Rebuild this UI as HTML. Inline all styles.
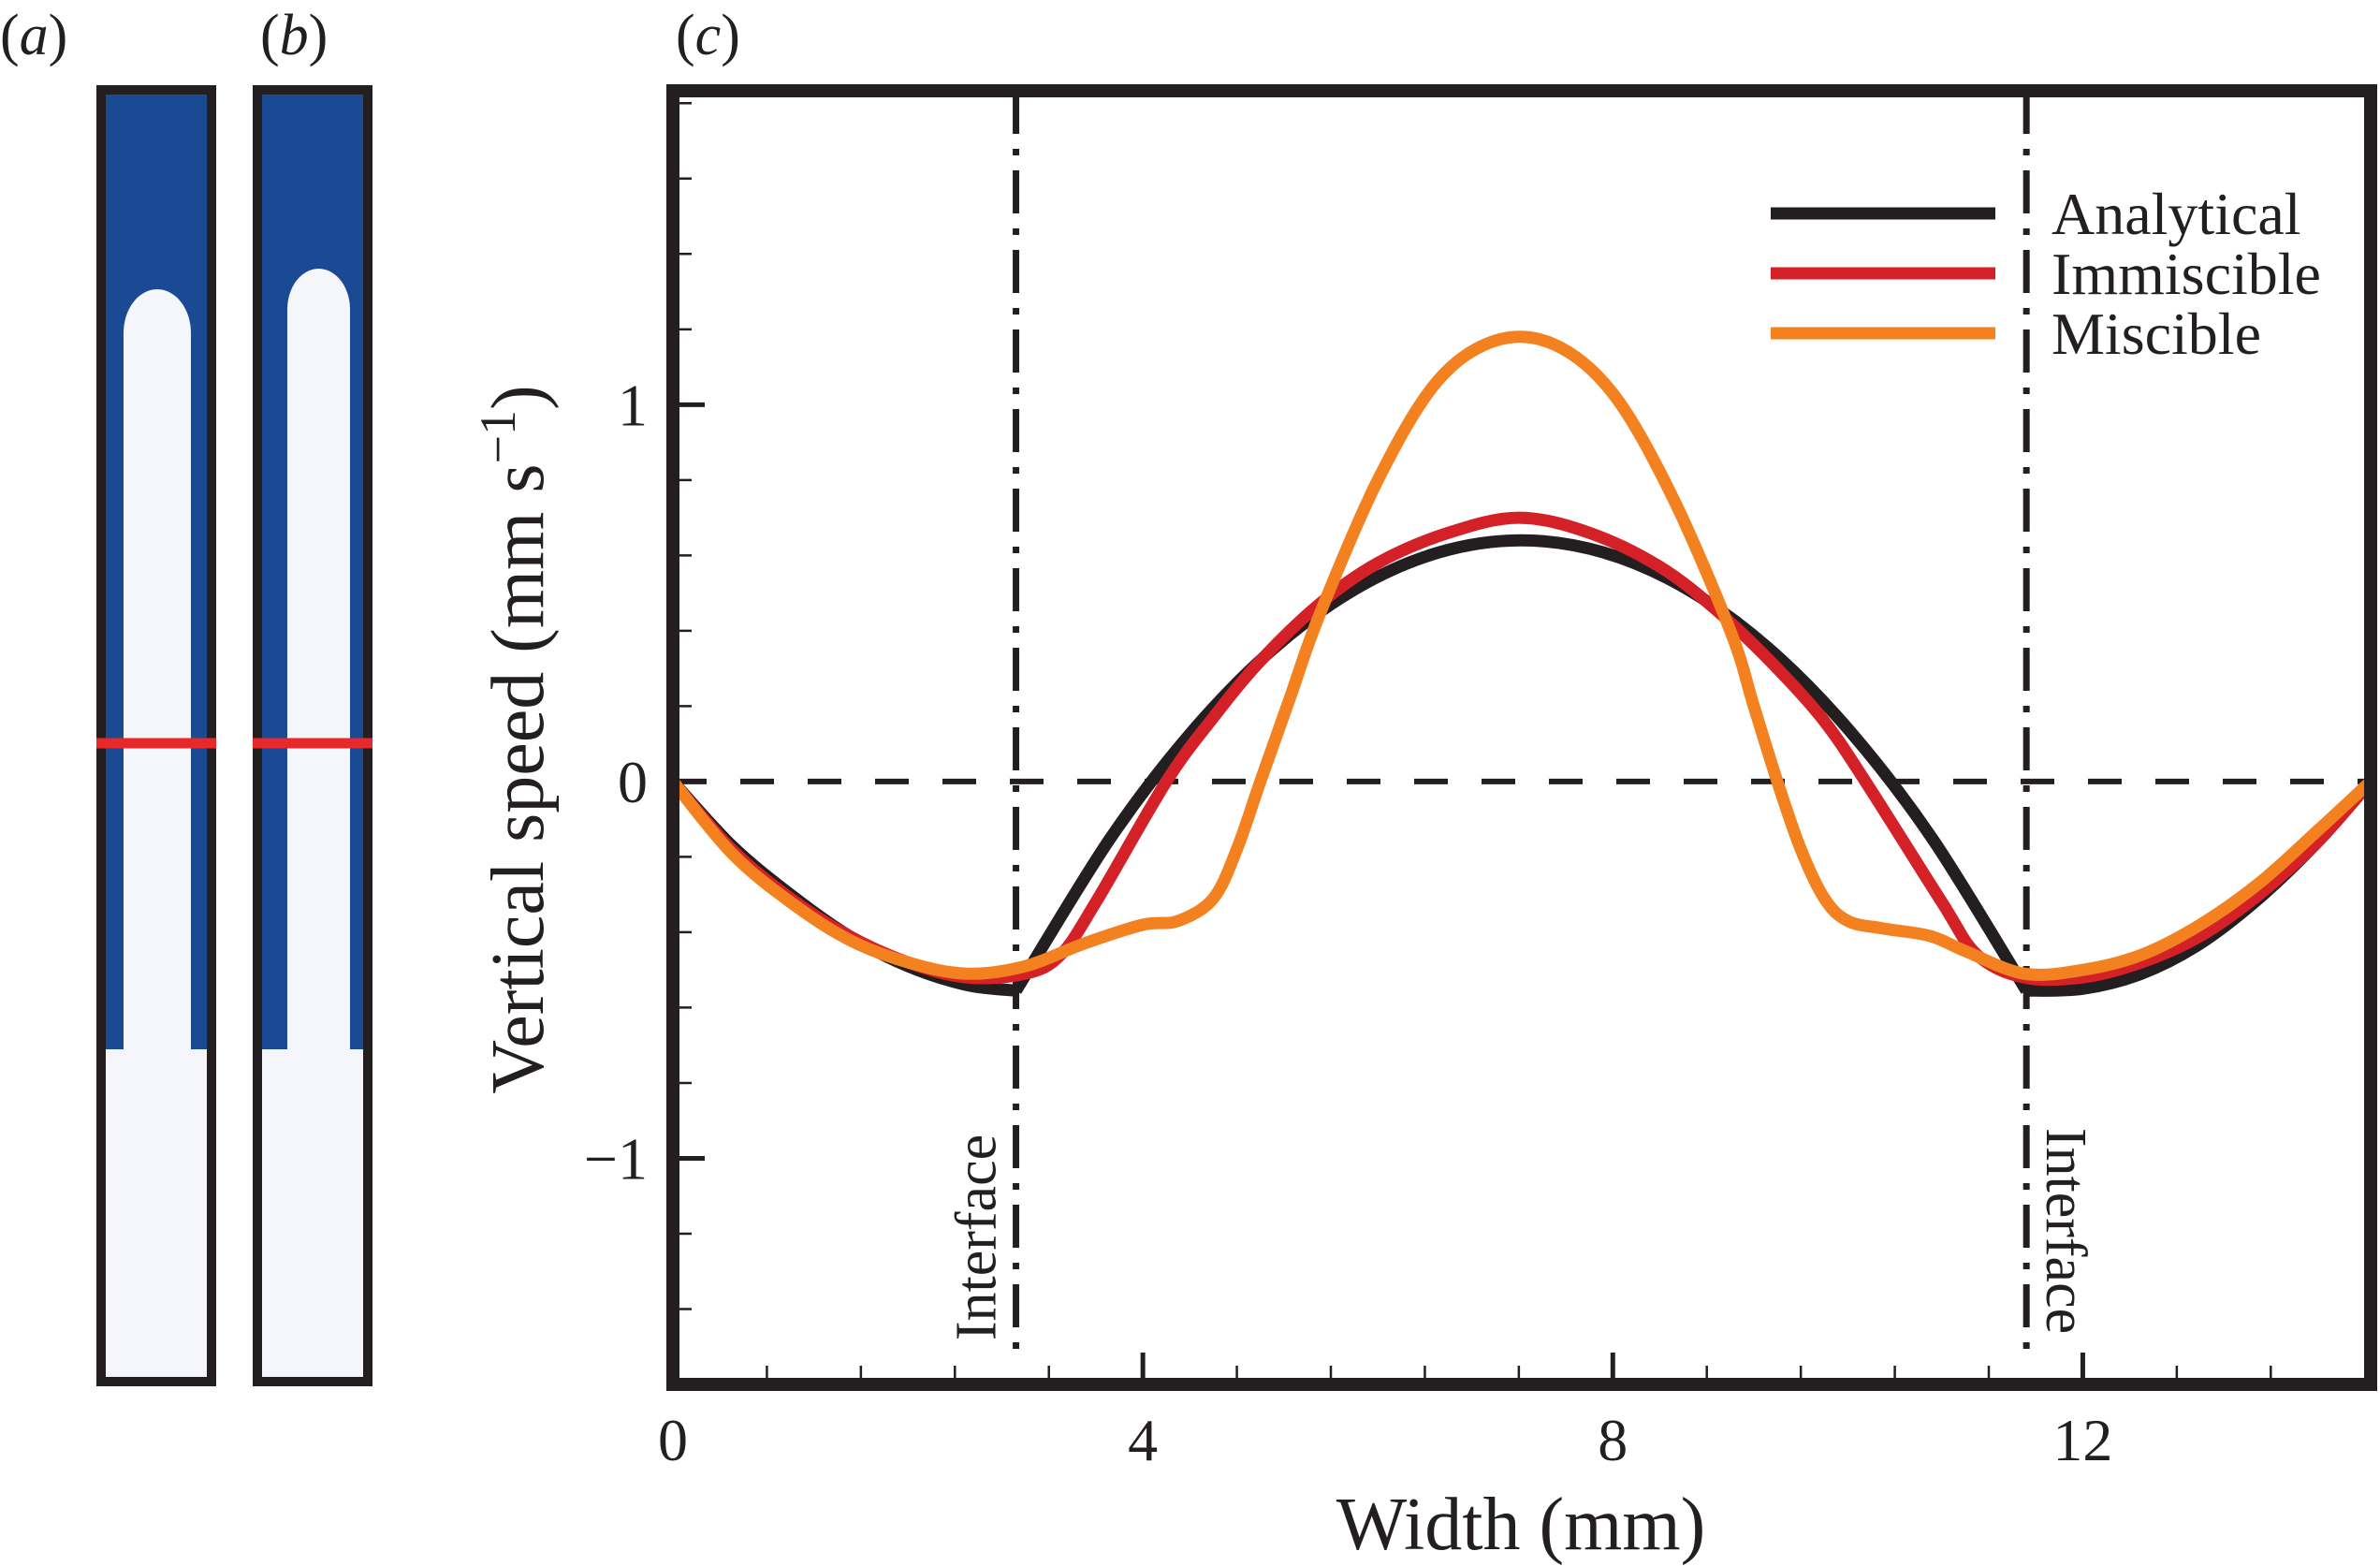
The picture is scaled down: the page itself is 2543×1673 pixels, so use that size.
<!DOCTYPE html>
<html><head><meta charset="utf-8"><style>
html,body{margin:0;padding:0;background:#fff;}
svg{display:block;}
svg text{font-family:"Liberation Serif","Times New Roman",serif;}
</style></head><body>
<svg id="fig" width="2543" height="1673" viewBox="0 0 2543 1673">
<g id="panels"></g>
<g id="chart"></g>
</svg>
<script>
const xTicks=[0,4,8,12];
const yTicks=[-1,0,1];
const interfaces=[2.92,11.52];
const anaLeftX=[0,0.5,1,1.5,2,2.5,2.92];
const anaLeftY=[0,-0.17,-0.3,-0.41,-0.49,-0.54,-0.555];
const anaMidX=[2.92,3.72,4.42,5.12,5.82,6.52,7.22,7.92,8.62,9.32,10.02,10.72,11.52];
const anaMidY=[-0.555,-0.152,0.133,0.355,0.513,0.608,0.64,0.608,0.513,0.355,0.133,-0.152,-0.555];
const anaRightX=[11.52,12,12.5,13,13.5,14,14.45];
const anaRightY=[-0.555,-0.55,-0.51,-0.43,-0.31,-0.16,0];
const immX=[0,0.5,1,1.5,2,2.5,3.0,3.3,3.6,4.2,4.6,5,5.5,6,6.6,7.2,7.8,8.4,8.9,9.4,9.8,10.15,10.8,11.1,11.5,12,12.5,13,13.5,14,14.45];
const immY=[0,-0.18,-0.31,-0.41,-0.48,-0.52,-0.51,-0.46,-0.32,0,0.17,0.32,0.47,0.58,0.66,0.70,0.66,0.57,0.45,0.3,0.16,0,-0.32,-0.46,-0.52,-0.52,-0.48,-0.41,-0.3,-0.16,0];
const misX=[0,0.5,1,1.5,2,2.5,3,3.5,4,4.3,4.6,4.8,5.0,5.25,5.5,6,6.5,7,7.5,8,8.5,9,9.2,9.4,9.6,9.8,10.0,10.3,10.7,11,11.5,12,12.5,13,13.5,14,14.45];
const misY=[0,-0.19,-0.32,-0.42,-0.48,-0.51,-0.49,-0.43,-0.38,-0.37,-0.31,-0.18,0,0.22,0.44,0.8,1.06,1.17,1.16,1.03,0.76,0.4,0.2,0,-0.18,-0.31,-0.37,-0.39,-0.41,-0.45,-0.51,-0.5,-0.46,-0.38,-0.27,-0.13,0];
const legendNames=["Analytical","Immiscible","Miscible"];
const colors=["#231f20","#d42027","#f48120"];

const NS="http://www.w3.org/2000/svg";
const L=719,R=2533,T=97,B=1479,X0=0,X1=14.45,Y0=-1.6,Y1=1.833;
const sx=v=>L+(v-X0)/(X1-X0)*(R-L);
const sy=v=>B-(v-Y0)/(Y1-Y0)*(B-T);
function mk(tag,attrs,parent){const e=document.createElementNS(NS,tag);for(const k in attrs)e.setAttribute(k,attrs[k]);parent.appendChild(e);return e;}
const chart=document.getElementById('chart');
const panels=document.getElementById('panels');

function label(x,txt){
  const t=mk('text',{x:x,y:58,'font-size':62,fill:'#231f20'},chart);
  t.innerHTML='(<tspan font-style="italic">'+txt+'</tspan>)';
  
  
}
function panel(x0,fingerL,fingerR,fingerTop,name){
  const g=mk('g',{},panels);
  
  
  mk('rect',{x:x0,y:91,width:128,height:1390,fill:'#f4f6fb'},g);
  mk('rect',{x:x0,y:91,width:128,height:1030,fill:'#1a4a93'},g);
  const r=(fingerR-fingerL)/2;
  mk('path',{d:`M${fingerL},1130 L${fingerL},${fingerTop+r*1.3} A${r},${r*1.3} 0 0 1 ${fingerR},${fingerTop+r*1.3} L${fingerR},1130 Z`,fill:'#f4f6fb'},g);
  mk('rect',{x:x0+5,y:96,width:118,height:1380,fill:'none',stroke:'#231f20','stroke-width':10},g);
  const rl=mk('line',{x1:x0,x2:x0+128,y1:794,y2:794,stroke:'#e8282b','stroke-width':11},g);
  
  
}
panel(103,132,204,309,'panel-a');
panel(270,307,374,287,'panel-b');
label(0,'a');label(278,'b');label(722,'c');

for(let i=1;i*0.8<14.4;i++){const v=i*0.8;
  const ln=mk('line',{x1:sx(v),x2:sx(v),y1:B,y2:B-20,stroke:'#231f20','stroke-width':2.5},chart);
  
  
}
xTicks.forEach(v=>{
  const ln=mk('line',{x1:sx(v),x2:sx(v),y1:B,y2:B-34,stroke:'#231f20','stroke-width':5},chart);
  
  
});
for(let i=-7;i<=9;i++){const v=i*0.2;
  const major=yTicks.some(t=>Math.abs(t-v)<1e-6);
  const ln=mk('line',{x1:L,x2:L+(major?34:20),y1:sy(v),y2:sy(v),stroke:'#231f20','stroke-width':major?5:2.5},chart);
  
  
}
xTicks.forEach(v=>{const t=mk('text',{x:sx(v),y:1560,'font-size':64,'text-anchor':'middle',fill:'#231f20'},chart);t.textContent=String(v);
  
  });
yTicks.forEach(v=>{const t=mk('text',{x:692,y:sy(v)+22,'font-size':64,'text-anchor':'end',fill:'#231f20'},chart);t.textContent=v<0?'\u2212'+Math.abs(v):String(v);
  
  });

const zl=mk('line',{x1:L,x2:R,y1:sy(0),y2:sy(0),stroke:'#231f20','stroke-width':6,'stroke-dasharray':'36 36'},chart);


interfaces.forEach(v=>{const l=mk('line',{x1:sx(v),x2:sx(v),y1:T,y2:B-30,stroke:'#231f20','stroke-width':7,'stroke-dasharray':'46 16 7 16'},chart);
  
  });
const i1=mk('text',{x:0,y:0,'font-size':62,'text-anchor':'middle',fill:'#231f20',transform:`translate(${sx(interfaces[0])-22},1322) rotate(-90)`},chart);
i1.textContent='Interface';


const i2=mk('text',{x:0,y:0,'font-size':62,'text-anchor':'middle',fill:'#231f20',transform:`translate(${sx(interfaces[1])+22},1315) rotate(90)`},chart);
i2.textContent='Interface';



function smooth(xs,ys){
  const p=xs.map((x,i)=>[sx(x),sy(ys[i])]);
  let d=`M${p[0][0]},${p[0][1]}`;
  for(let i=0;i<p.length-1;i++){
    const p0=p[Math.max(0,i-1)],p1=p[i],p2=p[i+1],p3=p[Math.min(p.length-1,i+2)];
    const c1=[p1[0]+(p2[0]-p0[0])/6,p1[1]+(p2[1]-p0[1])/6];
    const c2=[p2[0]-(p3[0]-p1[0])/6,p2[1]-(p3[1]-p1[1])/6];
    d+=` C${c1[0]},${c1[1]} ${c2[0]},${c2[1]} ${p2[0]},${p2[1]}`;
  }
  return d;
}
function series(d,color,name){const e=mk('path',{d:d,fill:'none',stroke:color,'stroke-width':13,'stroke-linejoin':'round'},chart);
  
  }
series(smooth(anaLeftX,anaLeftY),colors[0],'analytical-line-left');
series(smooth(anaMidX,anaMidY),colors[0],'analytical-line-center');
series(smooth(anaRightX,anaRightY),colors[0],'analytical-line-right');
series(smooth(immX,immY),colors[1],'immiscible-line');
series(smooth(misX,misY),colors[2],'miscible-line');

const ly=[228,292,356];
legendNames.forEach((n,i)=>{
  const g=mk('g',{},chart);
  
  
  mk('line',{x1:1892,x2:2132,y1:ly[i],y2:ly[i],stroke:colors[i],'stroke-width':13},g);
  const t=mk('text',{x:2192,y:ly[i]+22,'font-size':64,fill:'#231f20'},g);t.textContent=n;
});

const fr=mk('rect',{x:L,y:T,width:R-L,height:B-T,fill:'none',stroke:'#231f20','stroke-width':14},chart);



const xt=mk('text',{x:1625,y:1655,'font-size':80,'text-anchor':'middle',fill:'#231f20'},chart);
xt.textContent='Width (mm)';


const yt=mk('text',{x:0,y:0,'font-size':80,'text-anchor':'middle',fill:'#231f20',transform:'translate(580,790) rotate(-90)'},chart);
yt.innerHTML='Vertical speed (mm s<tspan dy="-30" font-size="54">\u22121</tspan><tspan dy="30">)</tspan>';


</script>
</body></html>
